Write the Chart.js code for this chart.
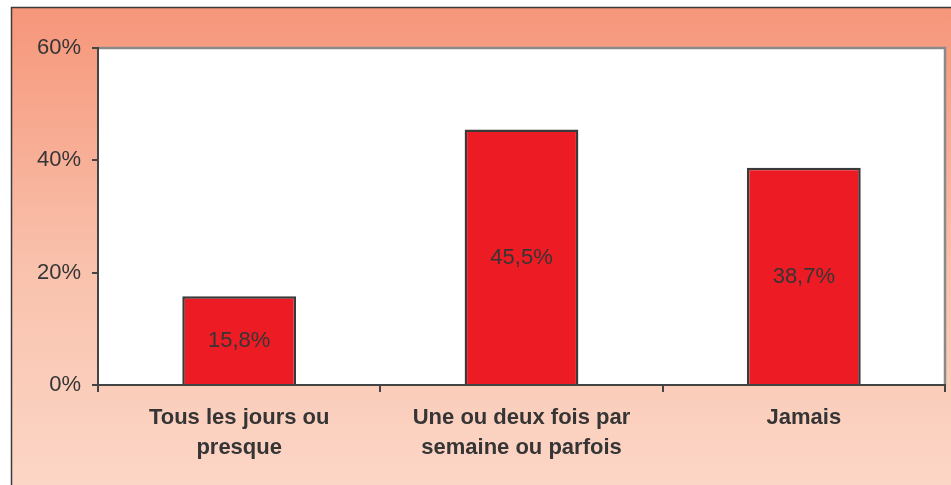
<!DOCTYPE html>
<html>
<head>
<meta charset="utf-8">
<script src="https://cdn.jsdelivr.net/npm/chart.js@4/dist/chart.umd.min.js"></script>
<style>
  html, body { margin: 0; padding: 0; background: #fff; }
  canvas { display: block; }
</style>
</head>
<body>
<canvas id="chart" width="951" height="485"></canvas>
<script>
const categories = [['Tous les jours ou', 'presque'], ['Une ou deux fois par', 'semaine ou parfois'], ['Jamais']]
const values = [15.8, 45.5, 38.7]
const yTicks = [0, 20, 40, 60]

const textColor = '#353535'
const axisColor = '#444444'

const backdrop = {
  id: 'backdrop',
  beforeDraw(chart) {
    const { ctx, width, height, chartArea: a } = chart
    ctx.save()
    ctx.fillStyle = '#ffffff'
    ctx.fillRect(0, 0, width, height)
    const g = ctx.createLinearGradient(0, 8, 0, height)
    g.addColorStop(0, '#f6967a')
    g.addColorStop(0.55, '#f9c2ad')
    g.addColorStop(1, '#fcd6c6')
    ctx.fillStyle = g
    ctx.fillRect(12, 8, width - 12, height - 8)
    ctx.strokeStyle = '#3c3c3c'
    ctx.lineWidth = 1.5
    ctx.beginPath()
    ctx.moveTo(11.5, height)
    ctx.lineTo(11.5, 7.5)
    ctx.lineTo(width, 7.5)
    ctx.stroke()
    ctx.fillStyle = '#ffffff'
    ctx.fillRect(a.left, a.top, a.right - a.left, a.bottom - a.top)
    ctx.strokeStyle = '#8a8a8a'
    ctx.lineWidth = 2.5
    ctx.beginPath()
    ctx.moveTo(a.left, a.top)
    ctx.lineTo(a.right, a.top)
    ctx.lineTo(a.right, a.bottom)
    ctx.stroke()
    ctx.restore()
  },
}

const barLabels = {
  id: 'barLabels',
  afterDatasetsDraw(chart) {
    const { ctx } = chart
    ctx.save()
    ctx.font = '22px "Liberation Sans", Arial, sans-serif'
    ctx.fillStyle = textColor
    ctx.textAlign = 'center'
    ctx.textBaseline = 'middle'
    chart.getDatasetMeta(0).data.forEach((bar, i) => {
      const txt = values[i].toFixed(1).replace('.', ',') + '%'
      ctx.fillText(txt, bar.x, (bar.y + bar.base) / 2 + 1)
    })
    ctx.restore()
  },
}

new Chart(document.getElementById('chart'), {
  type: 'bar',
  data: {
    labels: categories,
    datasets: [{
      data: values,
      backgroundColor: '#ed1c24',
      borderColor: '#3a3a3a',
      borderWidth: 2.5,
      categoryPercentage: 1,
      barPercentage: 0.403,
    }],
  },
  options: {
    responsive: false,
    animation: false,
    devicePixelRatio: 1,
    layout: { padding: { left: 12, top: 48, right: 6, bottom: 0 } },
    plugins: { legend: { display: false }, tooltip: { enabled: false } },
    scales: {
      x: {
        afterFit(s) { s.height = 100 },
        grid: { drawOnChartArea: false, tickLength: 7, color: axisColor, lineWidth: 2 },
        border: { color: axisColor, width: 2 },
        ticks: {
          color: textColor,
          padding: 11,
          font: { family: '"Liberation Sans", Arial, sans-serif', size: 22, weight: 'bold', lineHeight: 1.35 },
        },
      },
      y: {
        min: yTicks[0],
        max: yTicks[yTicks.length - 1],
        afterFit(s) { s.width = 86 },
        afterBuildTicks(s) { s.ticks = yTicks.map((v) => ({ value: v })) },
        grid: { drawOnChartArea: false, tickLength: 6, color: axisColor, lineWidth: 2 },
        border: { color: axisColor, width: 2 },
        ticks: {
          color: textColor,
          padding: 11,
          callback: (v) => v + '%',
          font: { family: '"Liberation Sans", Arial, sans-serif', size: 22 },
        },
      },
    },
  },
  plugins: [backdrop, barLabels],
})
</script>
</body>
</html>
